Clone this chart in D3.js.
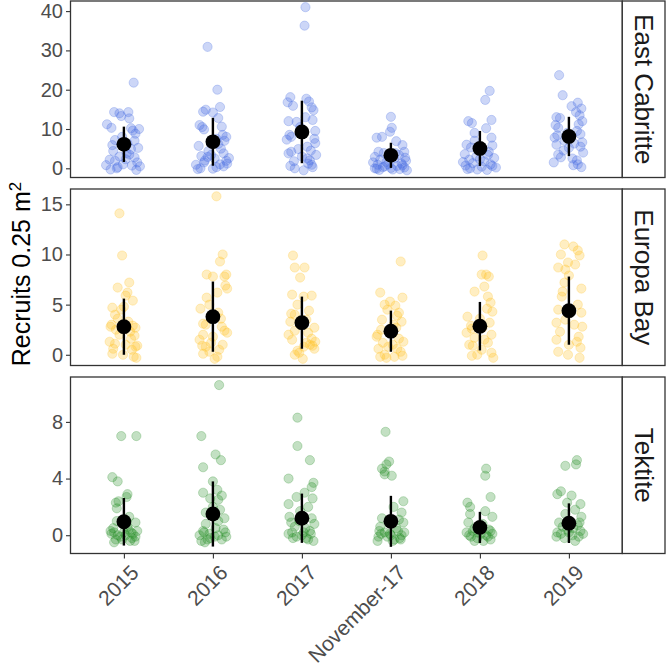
<!DOCTYPE html>
<html>
<head>
<meta charset="utf-8">
<script src="https://cdn.jsdelivr.net/npm/d3@7"></script>
<style>
  body { margin: 0; background: #fff; }
  svg { font-family: "Liberation Sans", Arial, Helvetica, sans-serif; }
</style>
</head>
<body>
<svg id="chart" width="666" height="668"></svg>
<script>
// Categories and facets
const years = ["2015", "2016", "2017", "November-17", "2018", "2019"];
const sites = ["East Cabritte", "Europa Bay", "Tektite"];
const siteColors = ["#4169E1", "#FFBF1F", "#228B22"];

// Tick values per facet
const yTicks = [[0, 10, 20, 30, 40], [0, 5, 10, 15], [0, 4, 8]];

// Mean and SD per year, one array per site
const ecMean = [6.1, 6.75, 9.25, 3.3, 5.05, 8.1];
const ecSD   = [4.5, 6.1, 7.95, 3.2, 4.45, 5.0];
const ebMean = [2.8, 3.8, 3.2, 2.35, 2.85, 4.4];
const ebSD   = [2.8, 3.5, 2.6, 2.05, 2.42, 3.4];
const tkMean = [0.95, 1.5, 1.2, 0.98, 0.55, 0.85];
const tkSD   = [1.68, 2.3, 1.74, 1.8, 1.1, 1.4];

// Jittered quadrat counts: [jitter (fraction of a category step), recruits]
const ecPoints = [
  [[0.11,21.8],[-0.11,14.3],[-0.05,14.0],[0.05,14.3],[-0.03,13.3],[0.06,12.7],[-0.19,11.2],[-0.14,10.3],[0.08,10.2],[0.1,9.6],[0.13,8.8],[-0.1,7.2],[0.12,7.0],[0.04,6.3],[-0.13,5.9],[0.16,5.2],[0.08,4.9],[0.03,3.9],[-0.05,3.0],[0.12,2.8],[-0.16,2.2],[-0.1,1.9],[0.15,1.5],[-0.01,1.0],[-0.2,0.8],[0.09,0.7],[-0.07,0.3],[0.14,-0.4],[-0.15,-0.3],[0.18,0.5],[0.02,2.3],[-0.12,4.4],[0.17,10.0],[-0.02,8.0],[0.06,3.5],[-0.08,0.0]],
  [[-0.06,30.9],[0.05,20.0],[0.08,15.6],[-0.08,14.9],[-0.11,14.4],[0,14.2],[0.06,12.8],[-0.15,11.0],[-0.12,10.5],[0.1,10.6],[-0.1,9.9],[0.11,8.5],[0.15,8.0],[0.04,7.5],[0.13,7.0],[-0.16,5.7],[0.09,5.0],[-0.05,4.4],[0.12,3.8],[-0.13,3.1],[-0.06,2.9],[0.02,2.5],[0.18,2.6],[0.15,1.9],[-0.1,1.5],[0.08,1.0],[-0.19,0.9],[0.04,0.3],[-0.17,-0.2],[-0.14,0.0],[0.12,0.5],[0.0,-0.1],[-0.02,3.4],[0.06,6.2],[-0.09,2.0],[0.16,1.2]],
  [[0.04,41.0],[0.03,36.3],[-0.13,18.1],[0.05,17.7],[-0.16,16.8],[0.08,17.0],[-0.1,15.9],[0.11,15.5],[0.13,14.8],[0.04,13.0],[-0.15,12.0],[0.12,12.3],[-0.06,11.8],[-0.14,8.5],[-0.12,8.0],[0.14,7.5],[0.15,6.4],[0.06,5.5],[0.1,4.5],[-0.15,3.8],[0,3.0],[0.06,2.5],[-0.09,1.8],[-0.13,0.6],[0.12,0.3],[0.02,-0.5],[0.09,2.0],[-0.04,4.9],[0.15,9.5],[-0.17,7.3],[0.07,1.2],[-0.08,0.0],[0.16,3.4],[-0.02,10.5],[0.11,0.9],[-0.12,4.2]],
  [[0.0,13.1],[0.01,10.3],[-0.01,9.3],[-0.16,7.8],[-0.1,8.0],[0.06,6.9],[0.13,5.9],[-0.14,4.2],[0.15,4.2],[-0.08,3.9],[0.09,3.4],[-0.18,2.9],[0.04,2.5],[-0.12,2.2],[0.17,1.9],[-0.05,1.6],[0.12,1.2],[-0.15,0.9],[0.07,0.6],[-0.09,0.3],[0.15,0.2],[-0.18,0.0],[0.02,-0.3],[0.18,-0.5],[-0.13,-0.4],[0.1,-0.2],[-0.03,1.0],[0.16,2.7],[-0.2,1.5],[0.05,3.9],[-0.07,0.5],[0.13,0.8],[-0.16,-0.1],[0.0,0.1]],
  [[0.11,19.7],[0.06,17.4],[0.13,12.3],[-0.13,12.0],[-0.09,11.5],[0.07,10.2],[-0.06,9.0],[0.13,7.8],[-0.15,6.0],[0.14,5.8],[-0.1,5.3],[0.03,4.8],[0.1,4.2],[-0.17,3.6],[-0.04,3.0],[0.16,2.6],[-0.12,2.2],[0.05,1.8],[-0.08,1.3],[0.12,1.0],[-0.16,0.7],[0.02,0.4],[0.18,0.2],[-0.11,0.0],[0.08,-0.4],[-0.03,-0.3],[0.14,0.6],[-0.19,1.6],[0.09,3.4],[-0.06,7.0],[0.0,2.3],[-0.14,-0.2]],
  [[-0.11,23.7],[-0.07,18.6],[0.1,16.7],[0.03,15.8],[0.14,15.2],[0.08,14.3],[0.12,13.5],[-0.14,13.0],[-0.1,12.8],[0.15,12.0],[-0.15,11.0],[-0.12,10.3],[0.09,9.5],[0.13,8.7],[-0.16,7.8],[-0.14,6.0],[0.13,5.5],[-0.06,4.5],[-0.12,3.5],[0.04,2.5],[0.09,2.0],[0.1,1.0],[0.14,0.3],[-0.17,1.5],[-0.05,7.0],[0.06,6.3],[0.16,4.0],[-0.02,9.0],[0.11,11.2],[-0.09,2.8],[0.0,5.2],[-0.13,8.4],[0.15,6.6],[0.05,0.8]]
];
const ebPoints = [
  [[-0.05,14.1],[-0.02,9.9],[0.06,7.2],[-0.07,6.7],[0.04,6.2],[0.02,5.9],[0.1,5.4],[-0.13,4.7],[-0.03,4.5],[-0.1,4.0],[-0.14,3.0],[0.1,2.9],[0.13,2.7],[-0.09,2.5],[-0.05,2.0],[0.08,1.6],[-0.1,1.1],[0.02,1.0],[0.13,0.8],[0.09,0.5],[-0.13,0.1],[-0.01,0.0],[0.11,-0.2],[0.14,-0.3],[-0.16,1.3],[0.05,3.3],[-0.07,3.6],[0.12,1.9],[-0.12,0.6],[0.07,2.3],[0.0,4.8],[-0.15,2.8],[0.15,0.9]],
  [[0.04,15.8],[0.11,10.0],[0.08,9.3],[-0.07,8.0],[0.15,8.0],[0.0,7.8],[0.13,7.8],[0.14,6.9],[0.16,6.6],[0.05,6.2],[-0.07,5.7],[-0.04,5.0],[0.06,4.2],[-0.11,3.1],[-0.08,3.0],[0.1,2.8],[0.13,2.4],[-0.11,2.0],[0.0,1.8],[0.11,1.0],[-0.12,0.9],[-0.08,0.8],[-0.11,0.1],[0.05,-0.2],[0.02,-0.4],[-0.04,0.3],[-0.02,1.2],[0.09,3.6],[-0.14,4.6],[0.16,2.2],[0.07,0.5],[-0.15,1.5]],
  [[-0.1,9.9],[-0.08,8.7],[0.03,8.7],[-0.02,7.7],[-0.11,6.0],[0.11,5.9],[0.02,5.8],[-0.05,5.0],[-0.12,4.1],[-0.08,4.0],[0.05,3.5],[0.14,2.7],[-0.08,2.4],[-0.15,2.0],[0.11,1.6],[0.05,1.2],[0.09,1.0],[0.02,0.8],[0.14,0.6],[-0.05,0.4],[-0.08,0.0],[0.01,-0.4],[-0.03,0.2],[0.0,3.0],[-0.11,1.5],[0.12,0.9],[0.07,2.2],[-0.13,3.3],[0.15,1.3],[0.08,4.4]],
  [[0.11,9.3],[-0.12,6.2],[0.13,5.7],[-0.01,5.3],[-0.07,5.0],[0.05,4.9],[-0.04,4.5],[0.07,3.9],[0.12,3.3],[0.03,3.0],[-0.11,2.5],[-0.15,2.0],[0.09,1.6],[-0.09,1.2],[0.02,1.0],[-0.14,0.6],[0.07,0.6],[0.11,0.3],[-0.07,0.0],[0.04,-0.2],[-0.05,-0.3],[0.14,1.3],[-0.16,1.8],[0.0,2.2],[0.09,4.2],[-0.1,3.5],[0.13,-0.1],[-0.03,0.8],[0.06,2.7],[-0.12,-0.2]],
  [[0.03,9.9],[0.02,8.0],[0.07,8.0],[0.1,7.8],[0.05,6.8],[-0.06,6.3],[0.09,5.8],[0.12,5.2],[0.14,4.3],[-0.14,3.8],[0.11,3.2],[-0.09,2.6],[-0.15,2.2],[0.13,2.0],[-0.06,1.7],[0.09,1.2],[-0.08,0.9],[0.02,0.5],[0.13,0.2],[-0.09,-0.1],[0.15,-0.3],[0.05,1.5],[0.03,2.7],[-0.12,1.0],[0.0,3.6],[-0.03,0.0],[0.08,4.6],[-0.1,2.9]],
  [[-0.05,11.0],[0.05,10.8],[0.1,10.4],[-0.09,10.0],[0.12,9.9],[-0.01,9.2],[0.07,9.0],[-0.12,8.7],[-0.04,8.5],[0.0,7.9],[-0.05,7.2],[0.14,6.6],[-0.08,5.8],[0.1,5.0],[-0.12,4.5],[0.14,4.2],[-0.04,3.5],[-0.14,3.2],[0.15,2.8],[-0.1,2.3],[0.11,1.8],[-0.14,1.5],[0.0,1.0],[0.13,0.7],[-0.12,0.3],[0.12,-0.3],[-0.01,0.0],[0.06,3.0],[-0.07,6.3],[0.09,1.3]]
];
const tkPoints = [
  [[-0.03,7.0],[0.14,7.0],[-0.13,4.1],[-0.07,3.8],[0.04,2.9],[0.03,2.7],[-0.06,2.4],[-0.09,2.3],[-0.08,1.9],[0.06,1.3],[-0.08,1.0],[0.13,0.9],[0.04,0.6],[-0.15,0.3],[-0.11,0.2],[0.1,0.1],[-0.07,0.0],[0.13,-0.1],[-0.02,-0.3],[0.07,-0.4],[-0.11,-0.5],[0.0,0.2],[0.09,-0.2],[-0.14,0.1],[0.15,0.3],[-0.04,-0.1],[0.05,0.4],[-0.09,-0.3],[0.12,-0.4],[0.02,0.0],[-0.12,0.5],[0.08,0.2]],
  [[0.07,10.6],[-0.13,7.0],[0.03,5.7],[0.09,5.3],[-0.11,4.8],[0.0,3.8],[0.05,3.2],[-0.11,3.0],[0.1,2.8],[-0.03,2.6],[0.06,2.5],[0.0,2.0],[-0.08,1.6],[0.13,1.2],[0.06,1.0],[-0.08,0.8],[-0.11,0.3],[0.14,0.2],[-0.04,0.1],[0.06,0.0],[0.02,-0.1],[0.1,-0.3],[-0.13,-0.4],[-0.09,-0.5],[-0.03,-0.2],[0.12,0.4],[-0.15,0.0],[0.03,0.5],[-0.06,-0.3],[0.08,1.8],[-0.1,0.2],[0.15,-0.1]],
  [[-0.05,8.3],[-0.05,6.3],[0.09,5.3],[-0.15,4.0],[0.13,3.7],[0.11,3.4],[0.03,3.0],[-0.06,2.7],[0.12,2.6],[-0.15,2.2],[0.07,2.0],[-0.02,1.7],[-0.14,1.3],[0.11,1.2],[0.14,0.8],[-0.08,0.6],[0.09,0.3],[-0.15,0.1],[0.0,0.0],[-0.06,-0.1],[0.07,-0.3],[0.13,-0.4],[-0.11,0.2],[0.04,0.5],[-0.1,-0.2],[0.1,0.1],[-0.03,1.0],[0.05,-0.2],[-0.12,0.9],[0.02,0.2]],
  [[-0.06,7.3],[-0.02,5.2],[-0.05,5.0],[-0.1,4.7],[-0.07,4.5],[-0.07,4.3],[0.01,4.2],[0.14,2.4],[0.03,2.0],[0.12,1.6],[-0.1,1.2],[0.14,0.9],[-0.12,0.6],[0.08,0.3],[-0.07,0.2],[0.12,0.0],[-0.14,-0.1],[0.04,-0.3],[-0.15,-0.4],[-0.01,0.1],[0.1,-0.2],[-0.04,-0.1],[0.15,0.2],[0.06,0.5],[-0.11,0.1],[0.02,-0.4],[0.09,1.1],[-0.13,0.3],[0.11,-0.3],[0.0,0.0]],
  [[0.07,4.7],[0.06,4.2],[0.12,2.7],[-0.14,2.3],[-0.11,2.0],[0.06,1.7],[0.14,1.3],[-0.11,1.5],[-0.13,0.9],[0.01,0.6],[-0.06,0.5],[0.12,0.3],[-0.15,0.2],[0.07,0.0],[-0.1,-0.1],[0.12,-0.3],[-0.06,-0.4],[0.01,0.1],[0.1,0.4],[-0.03,-0.2],[0.04,-0.4],[-0.12,0.0],[0.14,0.1],[-0.08,0.3],[0.03,0.8],[0.09,-0.1],[-0.02,0.2]],
  [[0.09,5.3],[0.08,5.0],[-0.04,4.9],[-0.09,3.1],[-0.13,2.9],[0.03,2.8],[-0.02,2.3],[0.13,2.2],[0.07,1.8],[-0.04,1.5],[0.14,1.3],[-0.11,0.9],[0.1,0.7],[-0.02,0.4],[-0.13,0.2],[0.16,0.1],[0.04,0.0],[-0.05,-0.2],[0.07,-0.4],[0.13,0.3],[-0.09,0.1],[0.11,-0.1],[-0.14,-0.1],[0.0,0.2],[0.05,0.5],[-0.07,0.6],[0.12,0.9]]
];

const allPoints = [ecPoints, ebPoints, tkPoints];
const allMeans = [ecMean, ebMean, tkMean];
const allSD = [ecSD, ebSD, tkSD];
const yDomains = [[-2.34, 42.57], [-1.07, 16.53], [-1.29, 11.17]];

// Layout
const plotLeft = 70.5, plotRight = 622.3, stripRight = 665;
const panelTops = [1, 189, 377];
const panelH = 176.5;

const svg = d3.select("#chart");

const x = d3.scalePoint()
    .domain(years)
    .range([plotLeft, plotRight])
    .padding(0.6);

sites.forEach((site, i) => {
    const top = panelTops[i];
    const y = d3.scaleLinear()
        .domain(yDomains[i])
        .range([top + panelH, top]);

    const g = svg.append("g");

    // Jittered raw points
    const pts = allPoints[i].flatMap((arr, j) =>
        arr.map(p => ({ year: years[j], dx: p[0], v: p[1] })));
    g.selectAll(".pt")
        .data(pts)
        .join("circle")
        .attr("class", "pt")
        .attr("cx", d => x(d.year) + d.dx * x.step())
        .attr("cy", d => y(d.v))
        .attr("r", 4.6)
        .attr("fill", siteColors[i])
        .attr("fill-opacity", 0.27)
        .attr("stroke", siteColors[i])
        .attr("stroke-opacity", 0.25)
        .attr("stroke-width", 1);

    // Mean +/- SD
    const stats = years.map((yr, j) => ({ year: yr, m: allMeans[i][j], sd: allSD[i][j] }));
    g.selectAll(".err")
        .data(stats)
        .join("line")
        .attr("x1", d => x(d.year))
        .attr("x2", d => x(d.year))
        .attr("y1", d => y(d.m - d.sd))
        .attr("y2", d => y(d.m + d.sd))
        .attr("stroke", "#000")
        .attr("stroke-width", 2.4);
    g.selectAll(".mean")
        .data(stats)
        .join("circle")
        .attr("cx", d => x(d.year))
        .attr("cy", d => y(d.m))
        .attr("r", 7.4)
        .attr("fill", "#000");

    // Panel border
    g.append("rect")
        .attr("x", plotLeft)
        .attr("y", top)
        .attr("width", plotRight - plotLeft)
        .attr("height", panelH)
        .attr("fill", "none")
        .attr("stroke", "#333")
        .attr("stroke-width", 1.3);

    // Y axis
    const ax = g.append("g")
        .attr("transform", `translate(${plotLeft},0)`)
        .call(d3.axisLeft(y).tickValues(yTicks[i]).tickSize(4.5).tickPadding(3));
    ax.select(".domain").remove();
    ax.selectAll("line").attr("stroke", "#333").attr("stroke-width", 1.1);
    ax.selectAll("text")
        .attr("fill", "#4D4D4D")
        .style("font-size", "20px")
        .style("font-family", "Liberation Sans, Arial, sans-serif");

    // Strip on the right
    g.append("rect")
        .attr("x", plotRight)
        .attr("y", top)
        .attr("width", stripRight - plotRight)
        .attr("height", panelH)
        .attr("fill", "#fff")
        .attr("stroke", "#333")
        .attr("stroke-width", 1.3);
    g.append("text")
        .attr("transform", `translate(${(plotRight + stripRight) / 2},${top + panelH / 2}) rotate(90)`)
        .attr("text-anchor", "middle")
        .attr("dy", "0.35em")
        .attr("fill", "#1A1A1A")
        .style("font-size", "26px")
        .text(site);

    // X axis on the bottom panel only
    if (i === sites.length - 1) {
        const xa = svg.append("g")
            .attr("transform", `translate(0,${top + panelH})`)
            .call(d3.axisBottom(x).tickSize(5));
        xa.select(".domain").remove();
        xa.selectAll("line").attr("stroke", "#333").attr("stroke-width", 1.1);
        xa.selectAll("text")
            .attr("x", 0)
            .attr("y", 0)
            .attr("dy", "0.71em")
            .attr("transform", "translate(5,10) rotate(-45)")
            .attr("text-anchor", "end")
            .attr("fill", "#4D4D4D")
            .style("font-size", "21px")
            .style("font-family", "Liberation Sans, Arial, sans-serif");
    }
});

// Y axis title
const title = svg.append("text")
    .attr("transform", "translate(30,274) rotate(-90)")
    .attr("text-anchor", "middle")
    .attr("fill", "#000")
    .style("font-size", "25px");
title.append("tspan").text("Recruits 0.25 m");
title.append("tspan")
    .attr("dy", "-0.55em")
    .style("font-size", "17px")
    .text("2");
</script>
</body>
</html>
